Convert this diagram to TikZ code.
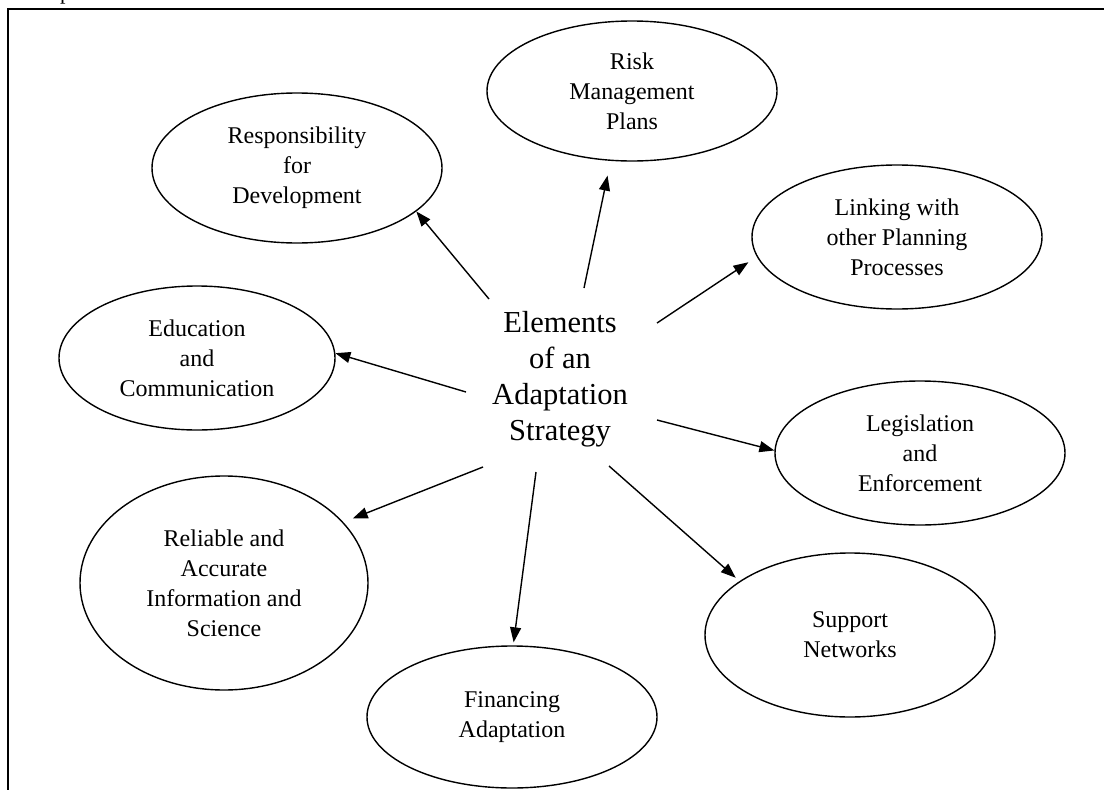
\documentclass[tikz,border=0pt]{standalone}
\usepackage{fontspec}
\setmainfont{Liberation Serif}
\usetikzlibrary{shapes.geometric,arrows.meta}
\begin{document}
\begin{tikzpicture}[x=1pt,y=-1pt,
  bubble/.style={draw,ellipse,line width=1.4pt,inner sep=0pt,align=center,
                 font=\fontsize{24}{30}\selectfont},
  arr/.style={line width=1.4pt,-{Triangle[length=15pt,width=11pt]}},
  frameline/.style={line width=1.6pt}]
\useasboundingbox (0,0) rectangle (1104,790);
\draw[frameline] (8,790) -- (8,9) -- (1104,9);
\node[anchor=base west,inner sep=0pt,font=\fontsize{22}{26}\selectfont] (frag) at (60,-1) {p};

\node[bubble,minimum width=290pt,minimum height=140pt] (risk)  at (632,91)  {Risk\\Management\\Plans};
\node[bubble,minimum width=290pt,minimum height=150pt] (resp)  at (297,168) {Responsibility\\for\\Development};
\node[bubble,minimum width=290pt,minimum height=144pt] (link)  at (897,237) {Linking with\\other Planning\\Processes};
\node[bubble,minimum width=276pt,minimum height=144pt] (edu)   at (197,358) {Education\\and\\Communication};
\node[bubble,minimum width=290pt,minimum height=144pt] (legis) at (920,453) {Legislation\\and\\Enforcement};
\node[bubble,minimum width=288pt,minimum height=214pt] (reli)  at (224,583) {Reliable and\\Accurate\\Information and\\Science};
\node[bubble,minimum width=290pt,minimum height=164pt] (supp)  at (850,635) {Support\\Networks};
\node[bubble,minimum width=290pt,minimum height=142pt] (fin)   at (512,717) {Financing\\Adaptation};

\node[align=center,inner sep=0pt,font=\fontsize{30.5}{36}\selectfont] (core) at (560,379)
  {Elements\\of an\\Adaptation\\Strategy};

\coordinate (s1) at (584,288);
\coordinate (s2) at (489,299);
\coordinate (s3) at (657,323);
\coordinate (s4) at (466,392);
\coordinate (s5) at (657,420);
\coordinate (s6) at (483,467);
\coordinate (s7) at (536,472);
\coordinate (s8) at (609,466);

\draw[arr,shorten >=15pt] (s1) -- (risk.253);
\draw[arr] (s2) -- (resp.340);
\draw[arr,shorten >=10pt] (s3) -- (link.188);
\draw[arr] (s4) -- (edu.2);
\draw[arr] (s5) -- (legis.179);
\draw[arr,shorten >=10pt] (s6) -- (reli.27);
\draw[arr,shorten >=3pt] (s7) -- (fin.89);
\draw[arr,shorten >=5pt] (s8) -- (supp.154);
\end{tikzpicture}
\end{document}
